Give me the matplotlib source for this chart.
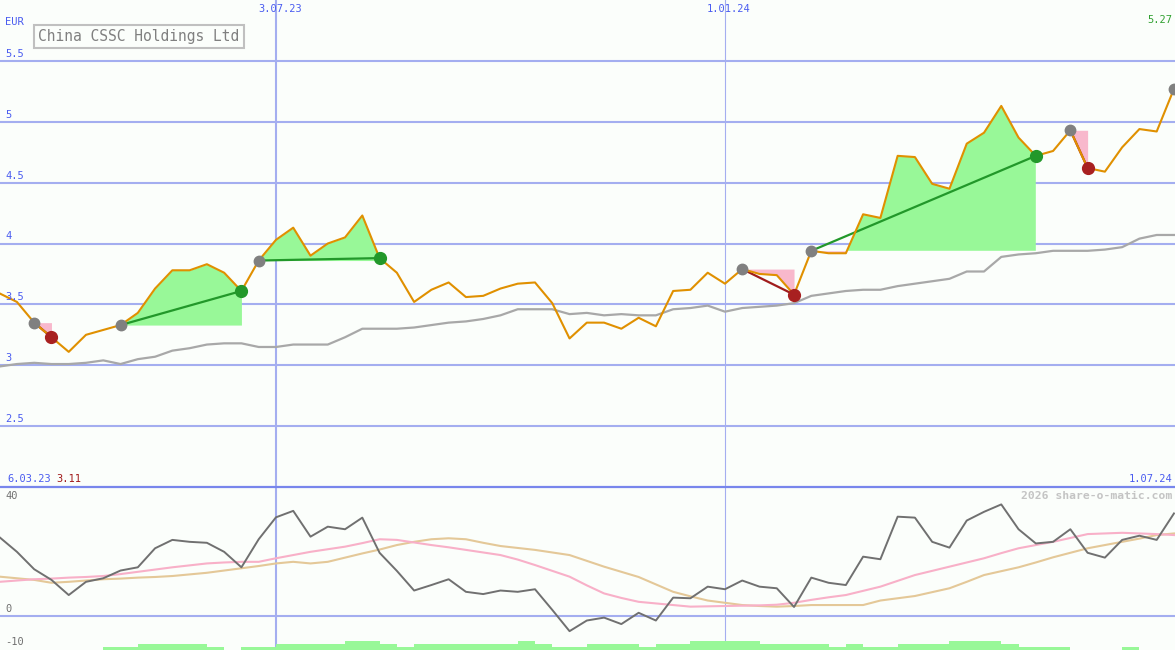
import numpy as np
import matplotlib
matplotlib.use("Agg")
import matplotlib.pyplot as plt
from matplotlib.lines import Line2D

# weekly points, week 0 = 6.03.23
weeks = np.arange(1, 70)

price = [3.59, 3.52, 3.35, 3.23, 3.11, 3.25, 3.29, 3.33, 3.43, 3.63,
         3.78, 3.78, 3.83, 3.76, 3.61, 3.86, 4.03, 4.13, 3.90, 4.00,
         4.05, 4.23, 3.88, 3.76, 3.52, 3.62, 3.68, 3.56, 3.57, 3.63,
         3.67, 3.68, 3.51, 3.22, 3.35, 3.35, 3.30, 3.39, 3.32, 3.61,
         3.62, 3.76, 3.67, 3.79, 3.75, 3.74, 3.58, 3.94, 3.92, 3.92,
         4.24, 4.21, 4.72, 4.71, 4.49, 4.45, 4.82, 4.91, 5.13, 4.87,
         4.72, 4.76, 4.93, 4.62, 4.59, 4.79, 4.94, 4.92, 5.27]

avg_line = [2.99, 3.01, 3.02, 3.01, 3.01, 3.02, 3.04, 3.01, 3.05, 3.07,
            3.12, 3.14, 3.17, 3.18, 3.18, 3.15, 3.15, 3.17, 3.17, 3.17,
            3.23, 3.30, 3.30, 3.30, 3.31, 3.33, 3.35, 3.36, 3.38, 3.41,
            3.46, 3.46, 3.46, 3.42, 3.43, 3.41, 3.42, 3.41, 3.41, 3.46,
            3.47, 3.49, 3.44, 3.47, 3.48, 3.49, 3.51, 3.57, 3.59, 3.61,
            3.62, 3.62, 3.65, 3.67, 3.69, 3.71, 3.77, 3.77, 3.89, 3.91,
            3.92, 3.94, 3.94, 3.94, 3.95, 3.97, 4.04, 4.07, 4.07]

osc = [24.4, 19.9, 14.5, 11.2, 6.5, 10.6, 11.7, 14.1, 15.1, 21.0,
       23.6, 23.0, 22.7, 19.9, 15.1, 23.8, 30.6, 32.6, 24.6, 27.7,
       26.9, 30.5, 19.6, 14.0, 7.9, 9.6, 11.4, 7.5, 6.8, 7.9,
       7.5, 8.3, 1.9, -4.7, -1.4, -0.5, -2.5, 1.0, -1.4, 5.7,
       5.5, 9.1, 8.3, 11.0, 9.1, 8.6, 2.8, 11.9, 10.3, 9.6,
       18.4, 17.6, 30.8, 30.5, 23.0, 21.2, 29.6, 32.3, 34.6, 26.9,
       22.5, 23.0, 26.9, 19.6, 18.1, 23.6, 24.9, 23.6, 31.8]

osc_fast = [10.6, 11.0, 11.4, 11.6, 11.9, 12.1, 12.4, 13.0, 13.7, 14.4,
            15.1, 15.7, 16.3, 16.6, 16.8, 16.8, 17.9, 18.9, 19.9, 20.7,
            21.5, 22.6, 23.8, 23.6, 22.8, 22.0, 21.3, 20.5, 19.7, 18.9,
            17.5, 15.8, 14.0, 12.2, 9.5, 7.0, 5.6, 4.4, 3.9, 3.4,
            2.9, 3.0, 3.1, 3.2, 3.3, 3.5, 4.1, 5.0, 5.8, 6.5,
            7.8, 9.1, 10.9, 12.7, 14.0, 15.3, 16.6, 17.9, 19.5, 21.0,
            22.0, 23.0, 24.2, 25.4, 25.6, 25.8, 25.6, 25.4, 25.1]

osc_slow = [12.2, 11.7, 11.2, 10.3, 10.6, 11.0, 11.4, 11.6, 11.9, 12.1,
            12.4, 12.9, 13.4, 14.1, 14.8, 15.5, 16.3, 16.8, 16.3, 16.8,
            18.1, 19.4, 20.6, 22.0, 23.0, 23.8, 24.1, 23.8, 22.7, 21.7,
            21.1, 20.5, 19.7, 18.9, 17.1, 15.3, 13.7, 12.1, 9.8, 7.5,
            6.1, 4.8, 4.1, 3.4, 3.1, 2.9, 3.1, 3.4, 3.4, 3.4,
            3.4, 4.8, 5.5, 6.2, 7.4, 8.6, 10.6, 12.7, 13.9, 15.1,
            16.6, 18.2, 19.6, 21.0, 22.0, 23.0, 24.0, 25.1, 25.6]

volume = [0, 0, 0, 0, 0, 0, 1, 1, 2, 2,
          2, 2, 1, 0, 1, 1, 2, 2, 2, 2,
          3, 3, 2, 1, 2, 2, 2, 2, 2, 2,
          3, 2, 1, 1, 2, 2, 2, 1, 2, 2,
          3, 3, 3, 3, 2, 2, 2, 2, 1, 2,
          1, 1, 2, 2, 2, 3, 3, 3, 2, 1,
          1, 1, 0, 0, 0, 1, 0, 0, 0]

# (entry week, exit week)
trades = [(3, 4), (8, 15), (16, 23), (44, 47), (48, 61), (63, 64)]

price_ticks = [2.5, 3, 3.5, 4, 4.5, 5, 5.5]
date_lines = [17, 43]
date_labels = ["3.07.23", "1.01.24"]

BG = "#fbfefb"
GRID = "#a4aef0"
BLUE_TXT = "#4a5cf0"
FONT = "DejaVu Sans Mono"
W, H = 1175, 650


def fx(px):
    return px / W


def fy(py):
    return 1 - py / H


fig = plt.figure(figsize=(11.75, 6.5), dpi=100, facecolor=BG)
ax = fig.add_axes([0, fy(487), 1, 487 / H], facecolor=BG)
ax2 = fig.add_axes([0, 0, 1, fy(487)], facecolor=BG)
xlim = (1.02, 69.06)

for a in (ax, ax2):
    a.set_xlim(*xlim)
    a.set_xticks([])
    a.set_yticks([])
    for s in a.spines.values():
        s.set_visible(False)
    a.axvline(date_lines[0], color=GRID, lw=1.5, zorder=1)
    a.axvline(date_lines[1], color=GRID, lw=0.8, zorder=1)

# main price panel
ax.set_ylim(2.0, 6.0)
for v in price_ticks:
    ax.axhline(v, color=GRID, lw=1.5, zorder=1)

p = np.array(price)
for e, x in trades:
    sl = slice(e - 1, x)
    wk = weeks[sl]
    pr = p[sl]
    lvl = p[e - 1]
    ax.fill_between(wk, lvl, pr, where=pr >= lvl, interpolate=True,
                    color="#98f898", lw=0, zorder=2)
    ax.fill_between(wk, lvl, pr, where=pr <= lvl, interpolate=True,
                    color="#f8b8cc", lw=0, zorder=2)

ax.plot(weeks, avg_line, color="#a8a8a8", lw=1.6, zorder=3)

for e, x in trades:
    c = "#22982a" if p[x - 1] > p[e - 1] else "#a01c1c"
    ax.plot([e, x], [p[e - 1], p[x - 1]], color=c, lw=1.6, zorder=4)

ax.plot(weeks, price, color="#e09000", lw=1.5, zorder=5)

for e, x in trades:
    c = "#22982a" if p[x - 1] > p[e - 1] else "#a82020"
    ax.plot(e, p[e - 1], "o", color="#808080", ms=7.5, zorder=6)
    ax.plot(x, p[x - 1], "o", color=c, ms=8.5, zorder=6)
ax.plot(weeks[-1], p[-1], "o", color="#808080", ms=7.5, zorder=6)

# lower oscillator panel
ax2.set_ylim(-10.54, 40)
ax2.axhline(0, color=GRID, lw=1.5, zorder=1)
ax2.plot(weeks, osc_slow, color="#e4c898", lw=1.5, zorder=3)
ax2.plot(weeks, osc_fast, color="#f8b0c8", lw=1.5, zorder=3)
ax2.plot(weeks, osc, color="#707070", lw=1.4, zorder=4)

axv = ax2.twinx()
axv.set_ylim(0, 54)
axv.set_xlim(*xlim)
axv.set_yticks([])
for s in axv.spines.values():
    s.set_visible(False)
axv.bar(weeks, volume, width=1.0, align="edge", color="#98f898", lw=0, zorder=2)

fig.add_artist(Line2D([0, 1], [fy(487), fy(487)], color="#7886ec", lw=1.6))

# texts
def label(px, py, s, color=BLUE_TXT, size=7.5, ha="left", **kw):
    fig.text(fx(px), fy(py), s, color=color, fontsize=size, ha=ha,
             va="center", family=FONT, **kw)

label(5, 22, "EUR")
for v in price_ticks:
    py = 365 - (v - 3) * 121.6
    label(5, py - 7, f"{v:g}")
for d, s in zip(date_lines, date_labels):
    px = (d - 17) * 17.27 + 276
    label(px + 4, 9, s, ha="center")
label(1172, 20, "5.27", color="#30a030", ha="right")
label(7, 479, "6.03.23")
label(56, 479, "3.11", color="#a01818")
label(1172, 479, "1.07.24", ha="right")
label(5, 496, "40", color="#707070")
label(5, 609, "0", color="#707070")
label(5, 642, "-10", color="#707070")
label(1172, 496, "2026 share-o-matic.com", color="#c4c4c4", size=8.2,
      ha="right", fontweight="bold")

fig.text(fx(38), fy(36.5), "China CSSC Holdings Ltd", color="#808080",
         fontsize=10.5, family=FONT, ha="left", va="center",
         bbox=dict(boxstyle="square,pad=0.3", facecolor=BG,
                   edgecolor="#c0c0c0", lw=1.5))

fig.savefig("out.png", dpi=100, facecolor=BG)
